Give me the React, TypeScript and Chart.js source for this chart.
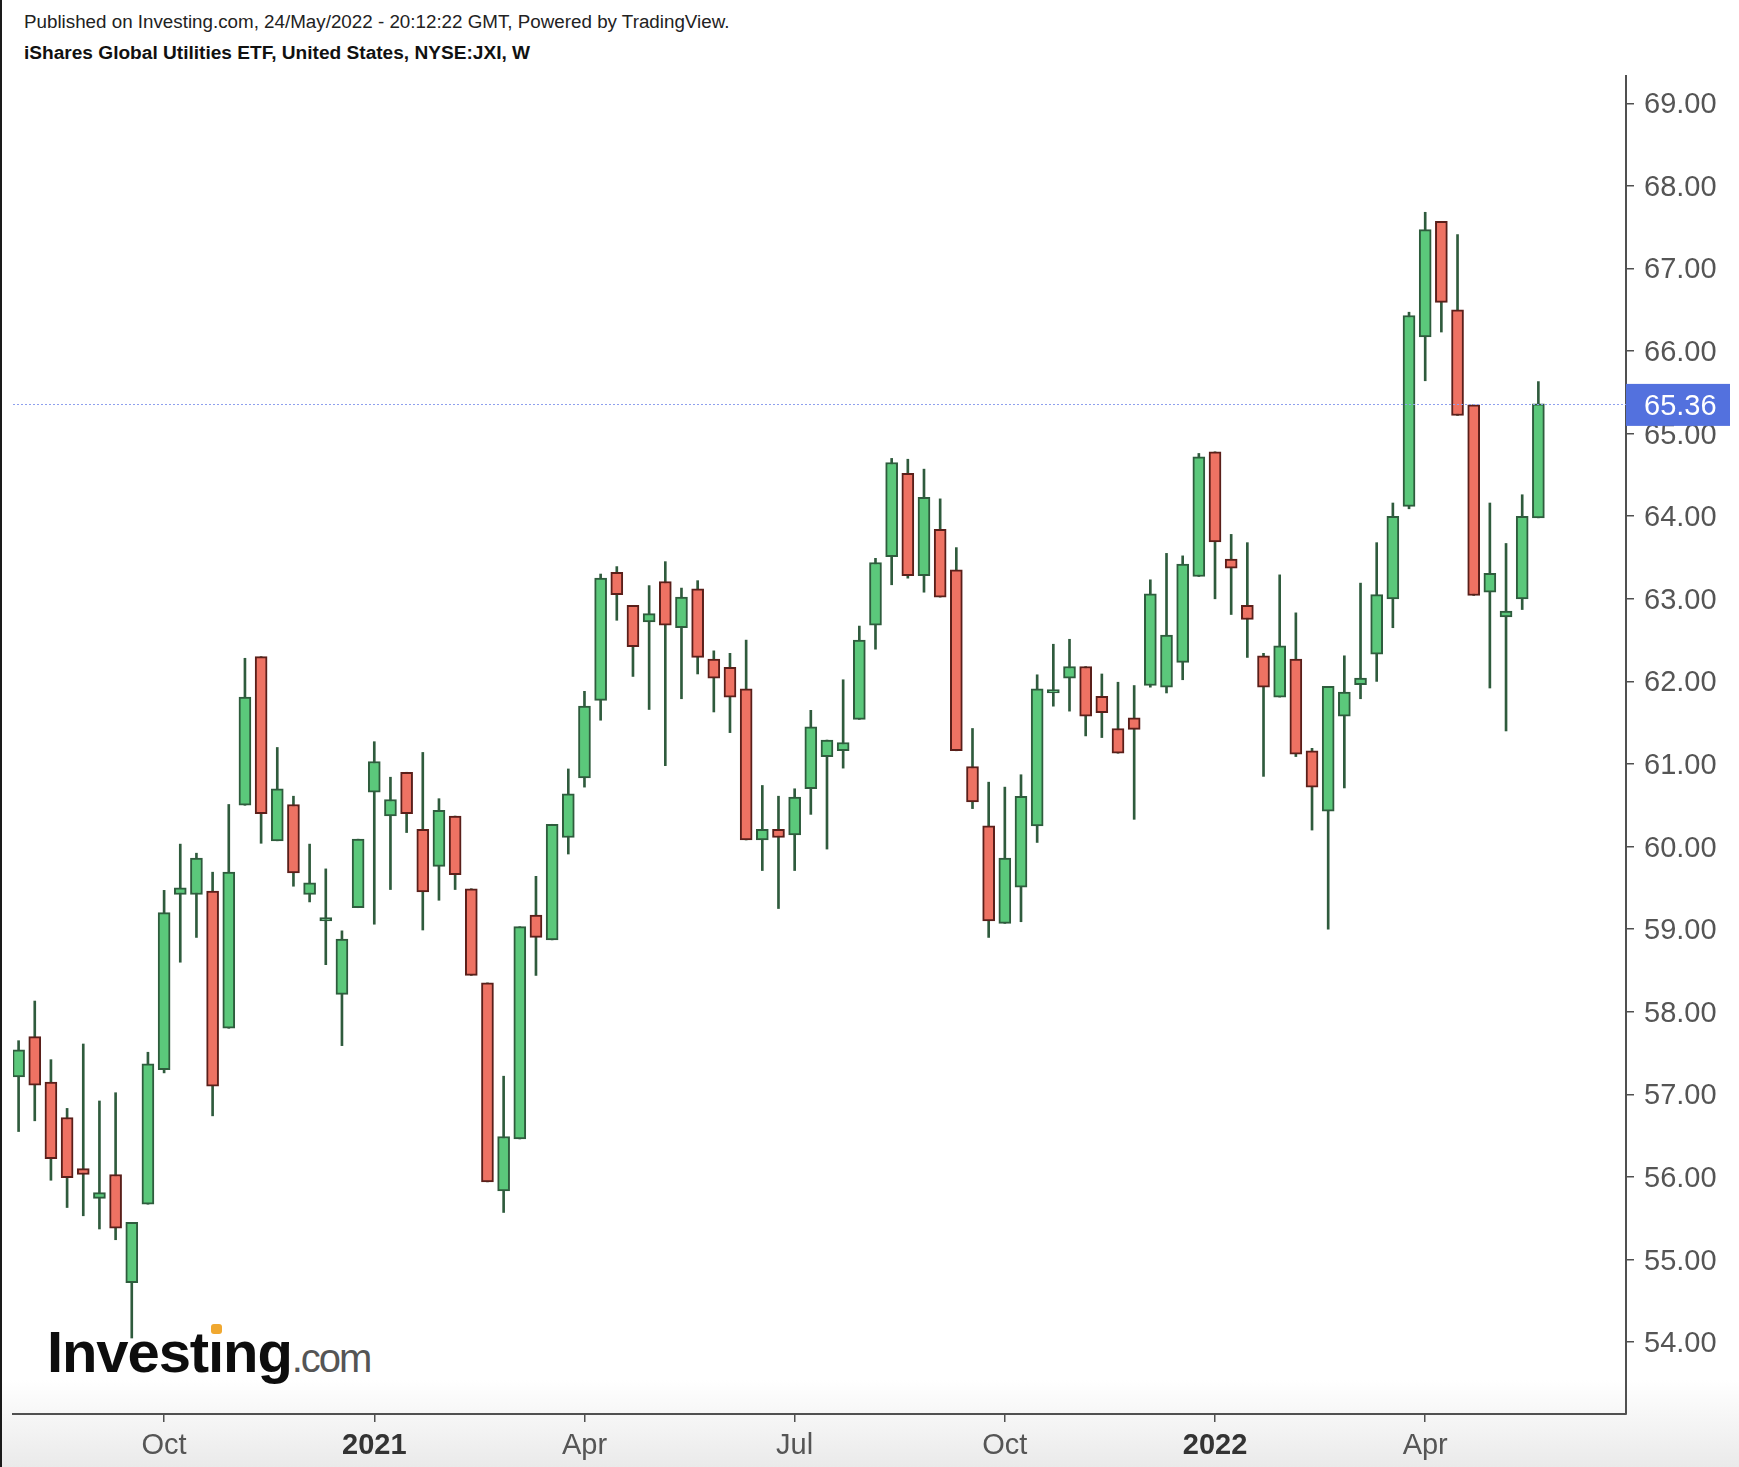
import React, { useEffect, useRef } from "react";
import { Chart, registerables } from "chart.js";

Chart.register(...registerables);

// Weekly bars (week starting date)
const weeks = [
  "2020-08-03", "2020-08-10", "2020-08-17", "2020-08-24", "2020-08-31",
  "2020-09-07", "2020-09-14", "2020-09-21", "2020-09-28",
  "2020-10-05", "2020-10-12", "2020-10-19", "2020-10-26",
  "2020-11-02", "2020-11-09", "2020-11-16", "2020-11-23", "2020-11-30",
  "2020-12-07", "2020-12-14", "2020-12-21", "2020-12-28",
  "2021-01-04", "2021-01-11", "2021-01-18", "2021-01-25",
  "2021-02-01", "2021-02-08", "2021-02-15", "2021-02-22",
  "2021-03-01", "2021-03-08", "2021-03-15", "2021-03-22", "2021-03-29",
  "2021-04-05", "2021-04-12", "2021-04-19", "2021-04-26",
  "2021-05-03", "2021-05-10", "2021-05-17", "2021-05-24", "2021-05-31",
  "2021-06-07", "2021-06-14", "2021-06-21", "2021-06-28",
  "2021-07-05", "2021-07-12", "2021-07-19", "2021-07-26",
  "2021-08-02", "2021-08-09", "2021-08-16", "2021-08-23", "2021-08-30",
  "2021-09-06", "2021-09-13", "2021-09-20", "2021-09-27",
  "2021-10-04", "2021-10-11", "2021-10-18", "2021-10-25",
  "2021-11-01", "2021-11-08", "2021-11-15", "2021-11-22", "2021-11-29",
  "2021-12-06", "2021-12-13", "2021-12-20", "2021-12-27",
  "2022-01-03", "2022-01-10", "2022-01-17", "2022-01-24", "2022-01-31",
  "2022-02-07", "2022-02-14", "2022-02-21", "2022-02-28",
  "2022-03-07", "2022-03-14", "2022-03-21", "2022-03-28",
  "2022-04-04", "2022-04-11", "2022-04-18", "2022-04-25",
  "2022-05-02", "2022-05-09", "2022-05-16", "2022-05-23",
];

const openPrices = [
  57.21, 57.70, 57.15, 56.72, 56.10, 55.74, 56.03, 54.72, 55.67,
  57.30, 59.42, 59.42, 59.46, 57.80, 60.50, 62.30, 60.07, 60.51, 59.42, 59.10, 58.21, 59.26,
  60.66, 60.37, 60.90, 60.21, 59.76, 60.37, 59.49, 58.35, 55.83, 56.46, 59.17, 58.87, 60.11,
  60.83, 61.77, 63.32, 62.92, 62.72, 63.21, 62.65, 63.12, 62.27, 62.17, 61.91, 60.08, 60.21,
  60.14, 60.70, 61.09, 61.16, 61.54, 62.68, 63.51, 64.52, 63.28, 63.84, 63.35, 60.97, 60.25,
  59.07, 59.51, 60.25, 61.86, 62.04, 62.18, 61.82, 61.43, 61.56, 61.95, 61.93, 62.23, 63.27,
  64.78, 63.48, 62.92, 62.31, 61.81, 62.27, 61.16, 60.43, 61.58, 61.96, 62.33, 63.00, 64.12,
  66.17, 67.57, 66.50, 65.35, 63.08, 62.78, 63.00, 63.98,
];

const highPrices = [
  57.65, 58.13, 57.42, 56.83, 57.61, 56.92, 57.02, 55.45, 57.51,
  59.47, 60.03, 59.92, 59.69, 60.51, 62.28, 62.30, 61.20, 60.61, 60.03, 59.73, 58.98, 60.09,
  61.27, 60.84, 60.90, 61.14, 60.58, 60.37, 59.49, 58.35, 57.22, 59.03, 59.64, 60.27, 60.94,
  61.88, 63.30, 63.39, 62.92, 63.16, 63.45, 63.13, 63.22, 62.37, 62.34, 62.50, 60.74, 60.61,
  60.70, 61.65, 61.29, 62.02, 62.67, 63.49, 64.70, 64.69, 64.57, 64.21, 63.62, 61.43, 60.78,
  60.72, 60.87, 62.08, 62.45, 62.51, 62.18, 62.09, 61.99, 61.95, 63.23, 63.55, 63.52, 64.76,
  64.78, 63.78, 63.68, 62.34, 63.29, 62.83, 61.19, 61.94, 62.31, 63.19, 63.68, 64.16, 66.47,
  67.68, 67.57, 67.41, 65.35, 64.16, 63.67, 64.26, 65.63,
];

const lowPrices = [
  56.55, 56.68, 55.96, 55.63, 55.53, 55.37, 55.24, 54.05, 55.67,
  57.26, 58.60, 58.90, 56.74, 57.80, 60.50, 60.04, 60.07, 59.52, 59.33, 58.57, 57.59, 59.26,
  59.06, 59.48, 60.17, 58.99, 59.35, 59.48, 58.44, 55.94, 55.57, 56.46, 58.44, 58.87, 59.91,
  60.72, 61.53, 62.74, 62.06, 61.66, 60.98, 61.79, 62.09, 61.63, 61.38, 60.08, 59.71, 59.25,
  59.71, 60.39, 59.97, 60.95, 61.54, 62.39, 63.17, 63.25, 63.08, 63.02, 61.16, 60.46, 58.90,
  59.07, 59.09, 60.05, 61.70, 61.64, 61.34, 61.32, 61.13, 60.33, 61.93, 61.86, 62.02, 63.27,
  63.00, 62.81, 62.29, 60.85, 61.81, 61.09, 60.20, 59.00, 60.71, 61.79, 62.00, 62.65, 64.09,
  65.64, 66.23, 65.22, 63.04, 61.92, 61.40, 62.87, 63.98,
];

const closePrices = [
  57.54, 57.11, 56.22, 55.99, 56.03, 55.81, 55.38, 55.45, 57.37,
  59.20, 59.50, 59.86, 57.10, 59.69, 61.81, 60.40, 60.70, 59.68, 59.56, 59.14, 58.88, 60.09,
  61.03, 60.57, 60.40, 59.45, 60.44, 59.66, 58.44, 55.94, 56.49, 59.03, 58.90, 60.27, 60.64,
  61.70, 63.25, 63.05, 62.42, 62.82, 62.68, 63.02, 62.29, 62.04, 61.81, 60.08, 60.21, 60.11,
  60.60, 61.45, 61.29, 61.26, 62.50, 63.44, 64.65, 63.28, 64.23, 63.02, 61.16, 60.54, 59.10,
  59.86, 60.61, 61.91, 61.90, 62.18, 61.58, 61.62, 61.13, 61.42, 63.06, 62.56, 63.42, 64.72,
  63.69, 63.37, 62.75, 61.93, 62.43, 61.12, 60.72, 61.94, 61.87, 62.04, 63.05, 64.00, 66.43,
  67.47, 66.59, 65.22, 63.04, 63.31, 62.85, 64.00, 65.36,
];

const tickWeeks = ["2020-10-05", "2021-01-04", "2021-04-05", "2021-07-05", "2021-10-04", "2022-01-03", "2022-04-04"];
const tickTexts = ["Oct", "2021", "Apr", "Jul", "Oct", "2022", "Apr"];

const lastPrice = 65.36;

const FONT = "'Liberation Sans', Arial, Helvetica, sans-serif";
const GREEN = "#5bc87b";
const GREEN_BORDER = "#2e5c3d";
const RED = "#ee7263";
const RED_BORDER = "#5a1f1a";
const WICK = "#2f5b3d";
const AXIS = "#505050";
const LABEL = "#555555";

export default function App() {
  const canvasRef = useRef<HTMLCanvasElement | null>(null);

  useEffect(() => {
    const canvas = canvasRef.current;
    if (!canvas) return;

    const tickIdx = tickWeeks.map((w) => weeks.indexOf(w));
    const up = weeks.map((_, i) => closePrices[i] >= openPrices[i]);
    const bodies = weeks.map((_, i) => ({ x: i, y: [openPrices[i], closePrices[i]] }));
    const wicks = weeks.map((_, i) => ({ x: i, y: [lowPrices[i], highPrices[i]] }));
    const isYear = (v: number) => {
      const k = tickIdx.indexOf(v);
      return k >= 0 && /^\d{4}$/.test(tickTexts[k]);
    };

    const priceLine = {
      id: "priceLine",
      afterDatasetsDraw(chart: any) {
        const { ctx, chartArea, scales } = chart;
        const py = Math.round(scales.y.getPixelForValue(lastPrice)) + 0.5;
        ctx.save();
        ctx.strokeStyle = "#8ea0ee";
        ctx.lineWidth = 1;
        ctx.setLineDash([2, 2]);
        ctx.beginPath();
        ctx.moveTo(chartArea.left, py);
        ctx.lineTo(chartArea.right, py);
        ctx.stroke();
        ctx.restore();
      },
      afterDraw(chart: any) {
        const { ctx, chartArea, scales } = chart;
        const py = scales.y.getPixelForValue(lastPrice);
        ctx.save();
        ctx.fillStyle = "#5371de";
        ctx.fillRect(chartArea.right, py - 20, 104, 42);
        ctx.fillStyle = "#ffffff";
        ctx.font = `29px ${FONT}`;
        ctx.textAlign = "left";
        ctx.textBaseline = "middle";
        ctx.fillText(lastPrice.toFixed(2), chartArea.right + 18, py + 3);
        ctx.restore();
      },
    };

    const chart = new Chart(canvas, {
      type: "bar",
      data: {
        datasets: [
          {
            label: "body",
            data: bodies as any,
            backgroundColor: up.map((u) => (u ? GREEN : RED)),
            borderColor: up.map((u) => (u ? GREEN_BORDER : RED_BORDER)),
            borderWidth: 2,
            borderSkipped: false,
            barThickness: 12,
            grouped: false,
            order: 0,
          } as any,
          {
            label: "wick",
            data: wicks as any,
            backgroundColor: WICK,
            borderWidth: 0,
            barThickness: 2,
            grouped: false,
            order: 1,
          } as any,
        ],
      },
      options: {
        animation: false,
        responsive: false,
        maintainAspectRatio: false,
        layout: { padding: { left: 13, top: 76, right: 0, bottom: 0 } },
        plugins: { legend: { display: false }, tooltip: { enabled: false } },
        scales: {
          x: {
            type: "linear",
            min: -0.346,
            max: 99.42,
            offset: false,
            grid: {
              display: true,
              offset: false,
              drawOnChartArea: false,
              drawTicks: true,
              tickLength: 8,
              color: AXIS,
              lineWidth: 1.5,
            },
            border: { display: true, color: AXIS, width: 2 },
            ticks: {
              autoSkip: false,
              maxRotation: 0,
              padding: 7,
              color: (ctx: any) => (isYear(ctx.tick?.value) ? "#333333" : LABEL),
              font: (ctx: any) => ({
                family: FONT,
                size: 29,
                weight: isYear(ctx.tick?.value) ? "bold" : "normal",
              }),
              callback: (v: any) => {
                const k = tickIdx.indexOf(Number(v));
                return k >= 0 ? tickTexts[k] : null;
              },
            },
            afterBuildTicks: (s: any) => {
              s.ticks = tickIdx.map((v) => ({ value: v }));
            },
            afterFit: (s: any) => {
              s.height = 53;
            },
          } as any,
          y: {
            type: "linear",
            position: "right",
            min: 53.13,
            max: 69.33,
            grid: {
              display: true,
              drawOnChartArea: false,
              drawTicks: true,
              tickLength: 8,
              color: AXIS,
              lineWidth: 1.5,
            },
            border: { display: true, color: AXIS, width: 2 },
            ticks: {
              stepSize: 1,
              includeBounds: false,
              padding: 10,
              labelOffset: 2,
              color: LABEL,
              font: { family: FONT, size: 29 },
              callback: (v: any) => Number(v).toFixed(2),
            },
            afterFit: (s: any) => {
              s.width = 113;
            },
          } as any,
        },
      },
      plugins: [priceLine],
    });

    return () => chart.destroy();
  }, []);

  return (
    <div
      style={{
        position: "absolute",
        left: 0,
        top: 0,
        width: 1739,
        height: 1467,
        overflow: "hidden",
        background: "linear-gradient(to bottom, #ffffff 0px, #ffffff 1380px, #eaeaea 1467px)",
        fontFamily: FONT,
      }}
    >
      <div style={{ position: "absolute", left: 0, top: 0, width: 2, height: 1467, background: "#1a1a1a" }} />
      <div
        style={{
          position: "absolute",
          left: 24,
          top: 12,
          fontSize: 18.8,
          lineHeight: "20px",
          color: "#222",
          whiteSpace: "nowrap",
        }}
      >
        Published on Investing.com, 24/May/2022 - 20:12:22 GMT, Powered by TradingView.
      </div>
      <div
        style={{
          position: "absolute",
          left: 24,
          top: 43,
          fontSize: 19.1,
          lineHeight: "20px",
          fontWeight: "bold",
          color: "#111",
          whiteSpace: "nowrap",
        }}
      >
        iShares Global Utilities ETF, United States, NYSE:JXI, W
      </div>
      <div
        style={{
          position: "absolute",
          left: 47,
          top: 1323,
          height: 60,
          display: "flex",
          alignItems: "baseline",
          whiteSpace: "nowrap",
        }}
      >
        <span style={{ fontSize: 58, lineHeight: "58px", fontWeight: "bold", color: "#0d0d0d", letterSpacing: -1.1 }}>
          Invest
          <span style={{ position: "relative", display: "inline-block" }}>
            ı
            <span
              style={{
                position: "absolute",
                left: 3,
                top: 1,
                width: 11,
                height: 10,
                borderRadius: 3,
                background: "#f0a830",
              }}
            />
          </span>
          ng
        </span>
        <span style={{ fontSize: 40, lineHeight: "58px", color: "#555", letterSpacing: -2 }}>.com</span>
      </div>
      <canvas
        ref={canvasRef}
        width={1739}
        height={1467}
        style={{ position: "absolute", left: 0, top: 0, width: 1739, height: 1467 }}
      />
    </div>
  );
}
